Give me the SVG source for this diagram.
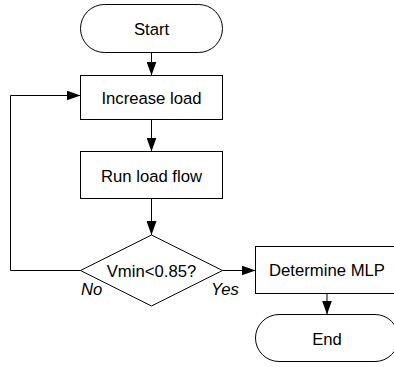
<svg xmlns="http://www.w3.org/2000/svg" width="394" height="367" viewBox="0 0 394 367">
  <style>
    .shape { fill: #ffffff; stroke: #000000; stroke-width: 1; }
    .edge { fill: none; stroke: #000000; stroke-width: 1; marker-end: url(#arrow); }
    .label { font-family: "Liberation Sans", Arial, sans-serif; font-size: 16.7px; fill: #000000; text-anchor: middle; }
    .branch { font-family: "Liberation Sans", Arial, sans-serif; font-size: 16.7px; font-style: italic; fill: #000000; }
  </style>
  <defs>
    <marker id="arrow" markerUnits="userSpaceOnUse" markerWidth="14" markerHeight="10" refX="14" refY="5" orient="auto">
      <path d="M0,0 L14,5 L0,10 Z" fill="#000000"/>
    </marker>
  </defs>
  <rect width="394" height="367" fill="#ffffff"/>

  <!-- connectors -->
  <g id="connectors">
    <path class="edge" d="M151.5,52.5 V75.5"/>
    <path class="edge" d="M151.5,119.5 V151.5"/>
    <path class="edge" d="M151.5,198.5 V235"/>
    <path class="edge" d="M222.5,270.5 H255.5"/>
    <path class="edge" d="M327,293.5 V314.5"/>
    <path class="edge" d="M80.5,270.5 H10.5 V95.5 H80.5"/>
    <text class="branch" x="81" y="295">No</text>
    <text class="branch" x="211" y="295">Yes</text>
  </g>

  <!-- nodes -->
  <g id="start">
    <rect class="shape" x="80.5" y="4.5" width="142" height="48" rx="24" ry="24"/>
    <text class="label" x="151.5" y="34.5">Start</text>
  </g>
  <g id="increase-load">
    <rect class="shape" x="80.5" y="75.5" width="142" height="44"/>
    <text class="label" x="151.5" y="104">Increase load</text>
  </g>
  <g id="run-load-flow">
    <rect class="shape" x="80.5" y="151.5" width="142" height="47"/>
    <text class="label" x="151.5" y="181.5">Run load flow</text>
  </g>
  <g id="check-vmin">
    <polygon class="shape" points="151.5,235 222.5,270.5 151.5,306 80.5,270.5"/>
    <text class="label" x="151.5" y="277">Vmin&lt;0.85?</text>
  </g>
  <g id="determine-mlp">
    <rect class="shape" x="255.5" y="246.5" width="143" height="47"/>
    <text class="label" x="327" y="276">Determine MLP</text>
  </g>
  <g id="end">
    <rect class="shape" x="255.5" y="314.5" width="143" height="47" rx="23.5" ry="23.5"/>
    <text class="label" x="327" y="345">End</text>
  </g>
</svg>
